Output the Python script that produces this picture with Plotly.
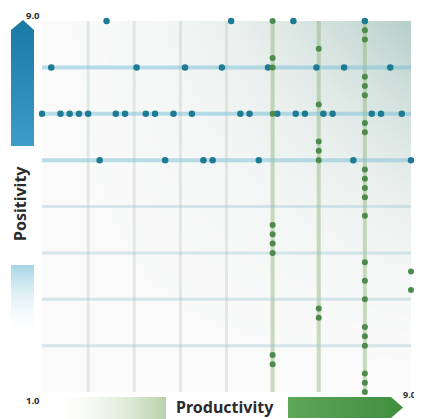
import numpy as np
import plotly.graph_objects as go

# The page body has an 8px margin, so the figure is drawn 8px in from the
# top-left corner of the window; reference pixel p maps to figure pixel p - 8.
REF_W, REF_H = 422, 419
OFF = 8
W, H = REF_W - OFF, REF_H - OFF

# ---------------- data ----------------
# grid lines (axis values 1..9)
strong_rows = [6, 7, 8]          # blue horizontal lines
faint_rows = [2, 3, 4, 5]
strong_cols = [6, 7, 8]          # green vertical lines
faint_cols = [2, 3, 4, 5]

# blue dots along horizontal rows: x positions per row
blue_y9_x = [2.4, 5.1, 6.45, 8.0]
blue_y8_x = [1.2, 3.05, 4.1, 4.9, 5.9, 6.95, 7.55, 8.55]
blue_y7_x = [1.0, 1.4, 1.6, 1.8, 2.0, 2.6, 2.8, 3.25, 3.45, 3.85, 4.25,
             5.3, 5.5, 6.1, 6.5, 6.7, 7.1, 7.3, 8.15, 8.35, 8.8]
blue_y6_x = [2.25, 3.67, 4.5, 4.7, 5.7, 7.75, 9.0]

# green dots along vertical columns: y positions per column
green_x6_y = [9.0, 8.2, 8.0, 7.0, 4.6, 4.4, 4.2, 4.0, 1.8, 1.6]
green_x7_y = [8.4, 7.2, 6.4, 6.2, 6.0, 2.8, 2.6]
green_x8_y = [8.8, 8.6, 7.8, 7.6, 7.4, 6.8, 6.6, 5.8, 5.6, 5.4, 5.2, 4.8,
              3.8, 3.4, 3.0, 2.4, 2.2, 2.0, 1.4, 1.2, 1.0]
green_x9_y = [3.6, 3.2]

axis_min_label = "1.0"
axis_max_label = "9.0"
x_title = "Productivity"
y_title = "Positivity"

BLUE = "#1e7b93"
GREEN = "#4d8a4c"

fig = go.Figure()

# ---------------- background gradient ----------------
gx = np.linspace(1, 9, 41)
gy = np.linspace(1, 9, 41)
U, V = np.meshgrid((gx - 1) / 8, (gy - 1) / 8)
Z = (U * V) ** 2
fig.add_trace(go.Heatmap(
    x=gx, y=gy, z=Z, zsmooth="best", showscale=False, hoverinfo="skip",
    zmin=0, zmax=1,
    colorscale=[[0, "#f9faf9"], [0.25, "#eaf0ee"], [1, "#b6cec8"]],
    xaxis="x", yaxis="y"))

# ---------------- grid lines ----------------
def vline(xv, color, width):
    fig.add_trace(go.Scatter(x=[xv, xv], y=[1, 9], mode="lines",
                             line=dict(color=color, width=width),
                             hoverinfo="skip", showlegend=False))

def hline(yv, color, width):
    fig.add_trace(go.Scatter(x=[1, 9], y=[yv, yv], mode="lines",
                             line=dict(color=color, width=width),
                             hoverinfo="skip", showlegend=False))

for c in faint_cols:
    vline(c, "rgba(165,185,165,0.25)", 3)
for c in strong_cols:
    vline(c, "rgba(140,180,115,0.45)", 4)
for r in faint_rows:
    hline(r, "rgba(140,190,205,0.32)", 3)
for r in strong_rows:
    hline(r, "rgba(120,190,215,0.50)", 4)

# ---------------- dots ----------------
blue_rows = [(9, blue_y9_x), (8, blue_y8_x), (7, blue_y7_x), (6, blue_y6_x)]
for yv, xs in blue_rows:
    fig.add_trace(go.Scatter(x=xs, y=[yv] * len(xs), mode="markers",
                             marker=dict(color=BLUE, size=6.5),
                             cliponaxis=False, showlegend=False))

green_cols = [(6, green_x6_y), (7, green_x7_y), (8, green_x8_y), (9, green_x9_y)]
for xv, ys in green_cols:
    fig.add_trace(go.Scatter(x=[xv] * len(ys), y=ys, mode="markers",
                             marker=dict(color=GREEN, size=6),
                             cliponaxis=False, showlegend=False))

# ---------------- decorations (overlay axes in reference pixels) ----------------
def poly(xs, ys, grad):
    fig.add_trace(go.Scatter(x=xs, y=ys, mode="none", fill="toself",
                             fillgradient=grad, hoverinfo="skip",
                             showlegend=False, xaxis="x2", yaxis="y2"))

# blue up arrow
poly([11, 11, 23, 34, 34, 11], [146, 30, 20, 30, 146, 146],
     dict(type="vertical", colorscale=[[0, "#3d9dc6"], [1, "#1b78a3"]],
          start=146, stop=20))
# faded light-blue block
poly([11, 34, 34, 11, 11], [265, 265, 338, 338, 265],
     dict(type="vertical", colorscale=[[0, "rgba(255,255,255,0)"], [1, "rgba(150,205,225,0.85)"]],
          start=338, stop=265))
# faded green block
poly([45, 166, 166, 45, 45], [397, 397, 419, 419, 397],
     dict(type="horizontal", colorscale=[[0, "rgba(255,255,255,0)"], [1, "rgba(175,205,160,0.9)"]],
          start=45, stop=166))
# green right arrow
poly([288, 391, 403, 391, 288, 288], [397, 397, 407.5, 418, 418, 397],
     dict(type="horizontal", colorscale=[[0, "#5ea757"], [1, "#3f8f3e"]],
          start=288, stop=403))

# right-hand end label as overlay text (not clipped at the paper edge)
fig.add_trace(go.Scatter(x=[403], y=[396], mode="text", text=[axis_max_label],
                         textposition="middle right", cliponaxis=False,
                         textfont=dict(family="Noto Sans", size=9, color="#2b2b2b",
                                       weight="bold"),
                         hoverinfo="skip", showlegend=False,
                         xaxis="x2", yaxis="y2"))

# ---------------- text ----------------
def ann(text, px, py, size, xanchor="center", angle=0):
    return dict(text=text, x=(px - OFF) / W, y=1 - (py - OFF) / H,
                xref="paper", yref="paper",
                showarrow=False, xanchor=xanchor, yanchor="middle",
                textangle=angle, borderpad=0,
                font=dict(family="Noto Sans", size=size, color="#2b2b2b", weight="bold"))

annotations = [
    ann(axis_max_label, 33, 16, 9.5),
    ann(axis_min_label, 33, 400, 9.5),
    ann(y_title, 20, 204, 16, angle=-90),
    ann(x_title, 225, 407, 16),
]

fig.update_layout(
    width=W, height=H,
    margin=dict(l=0, r=0, t=0, b=0),
    paper_bgcolor="white",
    plot_bgcolor="rgba(0,0,0,0)",
    showlegend=False,
    xaxis=dict(domain=[(42 - OFF) / W, (411 - OFF) / W], range=[1, 9],
               visible=False, fixedrange=True),
    yaxis=dict(domain=[(REF_H - 392) / H, (REF_H - 21) / H], range=[1, 9],
               visible=False, fixedrange=True),
    xaxis2=dict(domain=[0, 1], range=[OFF, REF_W], visible=False, anchor="y2",
                fixedrange=True),
    yaxis2=dict(domain=[0, 1], range=[REF_H, OFF], visible=False, anchor="x2",
                fixedrange=True),
    annotations=annotations,
)

fig.write_html("out.html")
